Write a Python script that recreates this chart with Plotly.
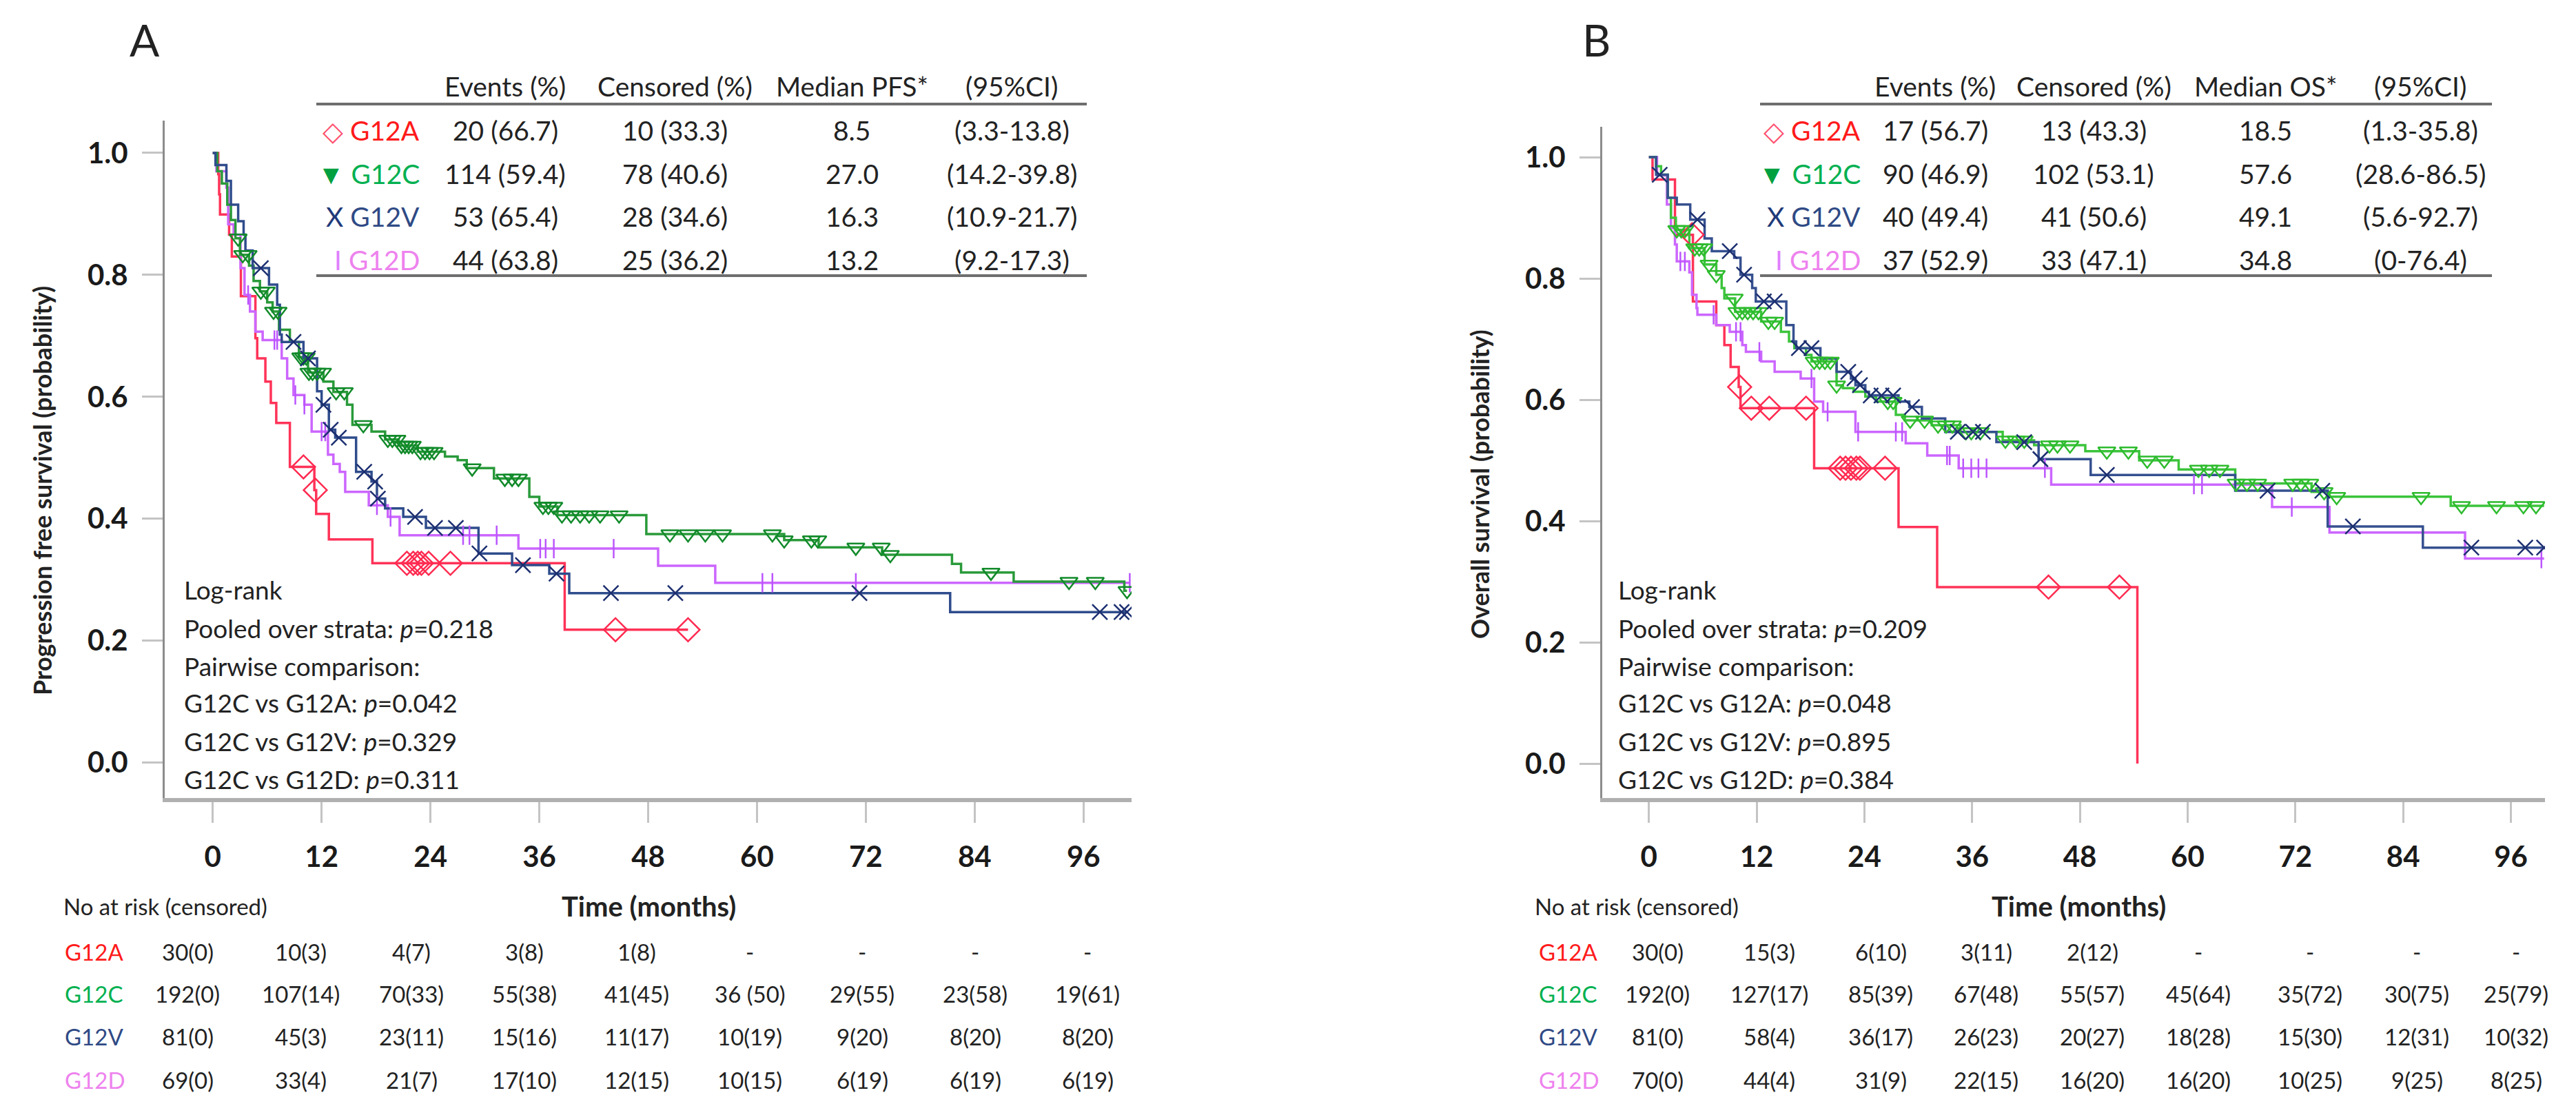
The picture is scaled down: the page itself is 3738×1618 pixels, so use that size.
import plotly.graph_objects as go
from bisect import bisect_right

W, H = 3738, 1618
FONT = "Lato, 'Open Sans', sans-serif"

groups = ["G12A", "G12C", "G12V", "G12D"]

# ---------------- Panel A: progression free survival ----------------
pfs_g12a_t = [0, 0.6, 0.7, 0.8, 1.8, 2.1, 3.1, 4.7, 4.9, 5.8, 6.4, 7.0, 8.5, 11.2, 11.4, 12.8, 17.6, 38.8]
pfs_g12a_s = [1.0, 0.965, 0.932, 0.899, 0.866, 0.830, 0.765, 0.696, 0.663, 0.625, 0.590, 0.557, 0.485, 0.447, 0.408, 0.366, 0.327, 0.218]
pfs_g12a_end = 52.4
pfs_g12a_cens = [10.0, 11.3, 21.4, 22.1, 22.6, 23.0, 23.8, 26.2, 44.4, 52.4]

pfs_g12c_t = [0, 0.5, 1.0, 1.6, 2.0, 2.5, 3.0, 4.0, 4.5, 5.2, 6.0, 6.6, 7.3, 8.5, 9.5, 10.5, 12.2, 13.3, 14.8, 15.4,
              17.5, 19.0, 20.5, 22.6, 25.6, 27.0, 28.0, 31.0, 34.9, 36.0, 38.0, 47.8, 63.0, 66.8, 73.8, 81.5, 82.5, 88.3, 100.5]
pfs_g12c_s = [1.0, 0.97, 0.95, 0.915, 0.89, 0.86, 0.833, 0.815, 0.79, 0.773, 0.755, 0.74, 0.71, 0.69, 0.665, 0.64, 0.625, 0.608, 0.587, 0.554,
              0.543, 0.53, 0.52, 0.51, 0.502, 0.496, 0.483, 0.466, 0.436, 0.42, 0.406, 0.375, 0.365, 0.353, 0.341, 0.326, 0.312, 0.297, 0.282]
pfs_g12c_end = 100.8
pfs_g12c_cens = [2.8, 3.3, 3.9, 5.3, 5.9, 6.7, 7.2, 9.7, 10.0, 10.3, 10.6, 11.0, 11.5, 12.1, 13.6, 14.5, 16.6, 19.3, 19.8, 20.3,
                 20.8, 21.2, 21.6, 22.0, 22.9, 23.4, 23.9, 24.4, 28.6, 32.2, 33.0, 33.7, 36.4, 37.0, 37.6, 38.5, 39.5, 40.5, 41.5,
                 42.7, 44.8, 50.4, 52.4, 54.3, 56.2, 61.7, 63.0, 66.0, 66.7, 70.9, 73.7, 74.7, 85.8, 94.4, 97.3, 100.8]

pfs_g12v_t = [0, 0.3, 1.5, 2.0, 2.8, 3.4, 3.6, 4.4, 6.2, 7.1, 7.4, 7.6, 10.0, 11.5, 12.0, 12.8, 13.5, 15.8, 17.5, 18.1,
              19.0, 21.0, 23.5, 29.3, 33.0, 37.1, 39.3, 81.3]
pfs_g12v_s = [1.0, 0.98, 0.954, 0.915, 0.888, 0.866, 0.84, 0.811, 0.784, 0.751, 0.702, 0.69, 0.663, 0.609, 0.587, 0.546, 0.533, 0.477, 0.461, 0.433,
              0.417, 0.403, 0.385, 0.343, 0.324, 0.31, 0.278, 0.247]
pfs_g12v_end = 100.8
pfs_g12v_cens = [5.3, 8.9, 10.5, 12.2, 13.0, 13.9, 16.7, 17.9, 18.2, 22.3, 24.5, 26.8, 29.4, 34.2, 37.9, 43.9, 51.0, 71.3, 97.8, 100.2, 100.8]

pfs_g12d_t = [0, 0.4, 1.5, 1.7, 2.3, 3.06, 3.5, 4.1, 4.7, 5.5, 7.6, 8.2, 8.9, 10.1, 10.9, 12.7, 13.3, 14.0, 14.6, 17.2,
              19.3, 20.6, 33.7, 49.1, 55.4]
pfs_g12d_s = [1.0, 0.97, 0.943, 0.883, 0.866, 0.811, 0.767, 0.74, 0.707, 0.693, 0.663, 0.63, 0.603, 0.587, 0.543, 0.505, 0.49, 0.477, 0.444, 0.422,
              0.403, 0.373, 0.351, 0.323, 0.295]
pfs_g12d_end = 101.1
pfs_g12d_cens = [3.9, 6.8, 7.1, 9.1, 10.1, 12.0, 12.4, 18.1, 19.6, 27.6, 28.3, 31.3, 36.1, 36.7, 37.6, 44.2, 60.6, 61.7, 70.9, 101.1]

# ---------------- Panel B: overall survival ----------------
os_g12a_t = [0, 0.4, 2.9, 4.9, 7.5, 8.4, 9.1, 10.0, 10.2, 18.4, 27.8, 32.1, 54.4]
os_g12a_s = [1.0, 0.963, 0.872, 0.762, 0.723, 0.69, 0.654, 0.621, 0.586, 0.487, 0.390, 0.291, 0.0]
os_g12a_end = 54.4
os_g12a_cens = [4.8, 10.1, 11.4, 13.4, 17.5, 21.3, 21.9, 22.5, 23.1, 23.5, 26.3, 44.5, 52.4]

os_g12c_t = [0, 0.8, 1.35, 2.1, 2.45, 3.0, 4.5, 6.2, 7.5, 8.1, 8.4, 9.6, 12.5, 14.7, 15.6, 16.2, 17.5, 18.1, 20.9, 21.6,
             22.8, 24.1, 25.3, 27.5, 28.5, 31.5, 34.7, 39.4, 42.9, 48.6, 54.6, 59.0, 65.3, 73.8, 75.8, 89.3]
os_g12c_s = [1.0, 0.985, 0.971, 0.933, 0.9, 0.88, 0.85, 0.823, 0.806, 0.784, 0.767, 0.745, 0.729, 0.712, 0.696, 0.685, 0.674, 0.663, 0.624, 0.619,
             0.613, 0.605, 0.597, 0.575, 0.566, 0.558, 0.547, 0.533, 0.525, 0.515, 0.5, 0.485, 0.462, 0.448, 0.44, 0.425]
os_g12c_end = 99.7
os_g12c_cens = [3.1, 3.6, 4.0, 5.1, 5.6, 6.1, 6.7, 7.5, 9.5, 9.8, 10.4, 11.0, 11.6, 12.2, 13.3, 14.0, 18.4, 19.0, 19.6, 20.2,
                20.9, 26.6, 27.2, 29.1, 30.7, 32.2, 33.1, 33.8, 35.3, 35.9, 36.9, 39.7, 40.9, 41.8, 44.6, 45.5, 46.9, 51.0, 53.4,
                55.5, 57.4, 61.2, 62.4, 63.6, 65.4, 66.6, 67.8, 71.7, 72.6, 73.6, 75.2, 76.6, 86.0, 90.5, 94.4, 97.4, 98.8]

os_g12v_t = [0, 0.8, 2.1, 3.1, 4.6, 6.2, 7.0, 9.5, 10.2, 11.5, 11.9, 15.3, 16.1, 16.4, 19.1, 20.9, 22.5, 23.0, 24.1, 24.5,
             27.8, 29.0, 30.4, 33.0, 38.7, 43.4, 49.2, 65.3, 75.6, 86.2]
os_g12v_s = [1.0, 0.971, 0.933, 0.922, 0.897, 0.866, 0.845, 0.834, 0.806, 0.784, 0.762, 0.723, 0.696, 0.685, 0.668, 0.646, 0.635, 0.624, 0.613, 0.607,
             0.597, 0.588, 0.569, 0.547, 0.53, 0.502, 0.476, 0.45, 0.391, 0.356]
os_g12v_end = 99.7
os_g12v_cens = [1.2, 5.4, 9.0, 10.6, 12.8, 14.0, 16.7, 18.1, 22.2, 22.9, 23.5, 24.7, 25.9, 27.2, 29.3, 34.4, 36.1, 37.2, 41.8,
                43.6, 51.0, 68.9, 75.0, 78.4, 91.6, 97.6, 99.7]

os_g12d_t = [0, 0.9, 2.0, 2.45, 2.9, 3.1, 4.5, 4.8, 5.3, 5.4, 7.5, 9.0, 10.4, 10.8, 12.5, 14.0, 16.9, 18.4, 19.4, 23.0,
             28.6, 31.0, 34.5, 44.8, 69.4, 75.8, 90.9]
os_g12d_s = [1.0, 0.97, 0.922, 0.883, 0.856, 0.828, 0.81, 0.773, 0.751, 0.74, 0.723, 0.712, 0.69, 0.679, 0.663, 0.646, 0.635, 0.597, 0.58, 0.547,
             0.528, 0.508, 0.487, 0.46, 0.423, 0.381, 0.338]
os_g12d_end = 99.7
os_g12d_cens = [3.5, 4.0, 7.2, 9.7, 10.2, 12.3, 18.1, 19.9, 23.3, 27.5, 28.2, 33.2, 33.5, 35.0, 35.9, 36.7, 37.6, 44.1, 60.7,
                61.6, 71.6, 99.4]

# ---------------- Summary tables ----------------
pfs_events = ["20 (66.7)", "114 (59.4)", "53 (65.4)", "44 (63.8)"]
pfs_censored = ["10 (33.3)", "78 (40.6)", "28 (34.6)", "25 (36.2)"]
pfs_median = ["8.5", "27.0", "16.3", "13.2"]
pfs_ci = ["(3.3-13.8)", "(14.2-39.8)", "(10.9-21.7)", "(9.2-17.3)"]
pfs_headers = ["Events (%)", "Censored (%)", "Median PFS*", "(95%CI)"]

os_events = ["17 (56.7)", "90 (46.9)", "40 (49.4)", "37 (52.9)"]
os_censored = ["13 (43.3)", "102 (53.1)", "41 (50.6)", "33 (47.1)"]
os_median = ["18.5", "57.6", "49.1", "34.8"]
os_ci = ["(1.3-35.8)", "(28.6-86.5)", "(5.6-92.7)", "(0-76.4)"]
os_headers = ["Events (%)", "Censored (%)", "Median OS*", "(95%CI)"]

pfs_stats = ["Log-rank", "Pooled over strata: <i>p</i>=0.218", "Pairwise comparison:",
             "G12C vs G12A: <i>p</i>=0.042", "G12C vs G12V: <i>p</i>=0.329", "G12C vs G12D: <i>p</i>=0.311"]
os_stats = ["Log-rank", "Pooled over strata: <i>p</i>=0.209", "Pairwise comparison:",
            "G12C vs G12A: <i>p</i>=0.048", "G12C vs G12V: <i>p</i>=0.895", "G12C vs G12D: <i>p</i>=0.384"]

# ---------------- Numbers at risk ----------------
pfs_risk = {
    "G12A": ["30(0)", "10(3)", "4(7)", "3(8)", "1(8)", "-", "-", "-", "-"],
    "G12C": ["192(0)", "107(14)", "70(33)", "55(38)", "41(45)", "36 (50)", "29(55)", "23(58)", "19(61)"],
    "G12V": ["81(0)", "45(3)", "23(11)", "15(16)", "11(17)", "10(19)", "9(20)", "8(20)", "8(20)"],
    "G12D": ["69(0)", "33(4)", "21(7)", "17(10)", "12(15)", "10(15)", "6(19)", "6(19)", "6(19)"],
}
os_risk = {
    "G12A": ["30(0)", "15(3)", "6(10)", "3(11)", "2(12)", "-", "-", "-", "-"],
    "G12C": ["192(0)", "127(17)", "85(39)", "67(48)", "55(57)", "45(64)", "35(72)", "30(75)", "25(79)"],
    "G12V": ["81(0)", "58(4)", "36(17)", "26(23)", "20(27)", "18(28)", "15(30)", "12(31)", "10(32)"],
    "G12D": ["70(0)", "44(4)", "31(9)", "22(15)", "16(20)", "16(20)", "10(25)", "9(25)", "8(25)"],
}

x_ticks = [0, 12, 24, 36, 48, 60, 72, 84, 96]
y_ticks = [0.0, 0.2, 0.4, 0.6, 0.8, 1.0]

# ---------------- Styles ----------------
line_col_a = {"G12A": "#FF3358", "G12C": "#2A9A3A", "G12V": "#2F4C8C", "G12D": "#CC66FF"}
line_col_b = {"G12A": "#FF3358", "G12C": "#3CC43C", "G12V": "#35508F", "G12D": "#CC66FF"}
mark_col_a = {"G12A": "#FF2A50", "G12C": "#118A2A", "G12V": "#1C2F70", "G12D": "#BB55FF"}
mark_col_b = {"G12A": "#FF2A50", "G12C": "#2DBB2D", "G12V": "#1C2F70", "G12D": "#BB55FF"}
label_col = {"G12A": "#FF1A1A", "G12C": "#00B050", "G12V": "#2F4A85", "G12D": "#EE82EE"}
sym_col = {"G12A": "#FF5070", "G12C": "#00A040", "G12V": "#1F3A7A", "G12D": "#E080FF"}
sym_txt = {"G12A": "◇", "G12C": "▼", "G12V": "X", "G12D": "I"}
symbols = {"G12A": ("diamond-open", 26), "G12C": ("triangle-down-open", 22),
           "G12V": ("x-thin-open", 22), "G12D": ("line-ns-open", 20)}

def px(x):
    return x / W

def py(y):
    return 1 - y / H

def lookup(t, s, c):
    i = bisect_right(t, c) - 1
    return s[max(i, 0)]

fig = go.Figure()

panels = [
    ("x", "y", {
        "G12A": (pfs_g12a_t, pfs_g12a_s, pfs_g12a_end, pfs_g12a_cens),
        "G12C": (pfs_g12c_t, pfs_g12c_s, pfs_g12c_end, pfs_g12c_cens),
        "G12V": (pfs_g12v_t, pfs_g12v_s, pfs_g12v_end, pfs_g12v_cens),
        "G12D": (pfs_g12d_t, pfs_g12d_s, pfs_g12d_end, pfs_g12d_cens),
    }, line_col_a, mark_col_a),
    ("x2", "y2", {
        "G12A": (os_g12a_t, os_g12a_s, os_g12a_end, os_g12a_cens),
        "G12C": (os_g12c_t, os_g12c_s, os_g12c_end, os_g12c_cens),
        "G12V": (os_g12v_t, os_g12v_s, os_g12v_end, os_g12v_cens),
        "G12D": (os_g12d_t, os_g12d_s, os_g12d_end, os_g12d_cens),
    }, line_col_b, mark_col_b),
]

draw_order = ["G12A", "G12D", "G12C", "G12V"]
for xa, ya, data, lc, mc in panels:
    for g in draw_order:
        t, s, tend, cens = data[g]
        fig.add_trace(go.Scatter(
            x=t + [tend], y=s + [s[-1]], mode="lines",
            line=dict(color=lc[g], width=3.5, shape="hv"),
            xaxis=xa, yaxis=ya, showlegend=False, hoverinfo="skip"))
    for g in draw_order:
        t, s, tend, cens = data[g]
        sym, size = symbols[g]
        fig.add_trace(go.Scatter(
            x=cens, y=[lookup(t, s, c) for c in cens], mode="markers",
            marker=dict(symbol=sym, size=size, color=mc[g], line=dict(width=2.5, color=mc[g])),
            xaxis=xa, yaxis=ya, showlegend=False, hoverinfo="skip"))

axis_common = dict(showgrid=False, zeroline=False, showline=True, ticks="outside",
                   ticklen=30, tickwidth=3, tickcolor="#c4c4c4")
xfont = dict(family=FONT, size=42, color="#1a1a1a", weight="bold")
yfont = dict(family=FONT, size=42, color="#1a1a1a", weight="bold")

fig.update_layout(
    width=W, height=H, margin=dict(l=0, r=0, t=0, b=0),
    paper_bgcolor="white", plot_bgcolor="white",
    font=dict(family=FONT, color="#222"),
    xaxis=dict(domain=[px(239), px(1642)], range=[-5.3, 101.3], tickvals=x_ticks,
               linecolor="#b0b0b0", linewidth=6, tickfont=xfont, ticklabelstandoff=14,
               anchor="y", **axis_common),
    yaxis=dict(domain=[py(1158), py(175)], range=[-0.058, 1.053], tickvals=y_ticks,
               ticktext=[f"{v:.1f}" for v in y_ticks], linecolor="#8c8c8c", linewidth=3,
               tickfont=yfont, ticklabelstandoff=12, anchor="x", **axis_common),
    xaxis2=dict(domain=[px(2325), px(3693)], range=[-5.2, 99.8], tickvals=x_ticks,
                linecolor="#b0b0b0", linewidth=6, tickfont=xfont, ticklabelstandoff=14,
                anchor="y2", **axis_common),
    yaxis2=dict(domain=[py(1158), py(184)], range=[-0.0568, 1.05], tickvals=y_ticks,
                ticktext=[f"{v:.1f}" for v in y_ticks], linecolor="#8c8c8c", linewidth=3,
                tickfont=yfont, ticklabelstandoff=12, anchor="x2", **axis_common),
)

ann = []

def text(x, y, s, size=38, color="#222", xanchor="center", bold=False, angle=0):
    ann.append(dict(x=px(x), y=py(y), xref="paper", yref="paper", text=s, showarrow=False,
                    xanchor=xanchor, yanchor="middle", textangle=angle,
                    font=dict(family=FONT, size=size, color=color, weight="bold" if bold else "normal")))

# panel letters
text(210, 57, "A", size=64)
text(2316, 57, "B", size=64)

# y axis titles
text(61, 712, "Progression free survival (probability)", size=36, bold=True, angle=-90)
text(2147, 703, "Overall survival (probability)", size=36, bold=True, angle=-90)

# summary tables
tables = [
    (pfs_headers, [pfs_events, pfs_censored, pfs_median, pfs_ci], 611, [733, 980, 1236, 1468], 459, 1577),
    (os_headers, [os_events, os_censored, os_median, os_ci], 2702, [2808, 3038, 3287, 3512], 2554, 3616),
]
row_y = [189, 252, 314, 377]
shapes = []
for headers, cols, lab_x, col_x, x0, x1 in tables:
    for h, cx in zip(headers, col_x):
        text(cx, 125, h, size=39)
    for i, g in enumerate(groups):
        label = (f"<span style='color:{sym_col[g]}'>{sym_txt[g]}</span> "
                 f"<span style='color:{label_col[g]}'>{g}</span>")
        text(lab_x, row_y[i], label, size=39, xanchor="right")
        for col, cx in zip(cols, col_x):
            text(cx, row_y[i], col[i], size=39)
    for yy in (151, 400):
        shapes.append(dict(type="line", xref="paper", yref="paper", x0=px(x0), x1=px(x1),
                           y0=py(yy), y1=py(yy), line=dict(color="#6e6e6e", width=4)))

# log-rank statistics
stat_y = [855, 911, 966, 1019, 1075, 1130]
for stats, sx in ((pfs_stats, 265), (os_stats, 2346)):
    for s, yy in zip(stats, stat_y):
        text(sx, yy, s, size=37, xanchor="left")

# numbers at risk
risk_rows = [1381, 1442, 1504, 1567]
risk_panels = [
    (pfs_risk, 90, 941, 92, [272, 436, 597, 761, 924, 1088, 1251, 1415, 1578]),
    (os_risk, 2225, 3016, 2231, [2405, 2567, 2729, 2882, 3036, 3190, 3352, 3507, 3651]),
]
for risk, nx, tx, lx, cols_x in risk_panels:
    text(nx, 1315, "No at risk (censored)", size=33, xanchor="left")
    text(tx, 1315, "Time (months)", size=40, bold=True)
    for i, g in enumerate(groups):
        text(lx, risk_rows[i], g, size=33, color=label_col[g], xanchor="left")
        for v, cx in zip(risk[g], cols_x):
            text(cx, risk_rows[i], v, size=33)

fig.update_layout(annotations=ann, shapes=shapes)

fig.write_html("out.html", config={"displayModeBar": False},
               post_script="document.body.style.margin='0';document.body.style.overflow='hidden';")
